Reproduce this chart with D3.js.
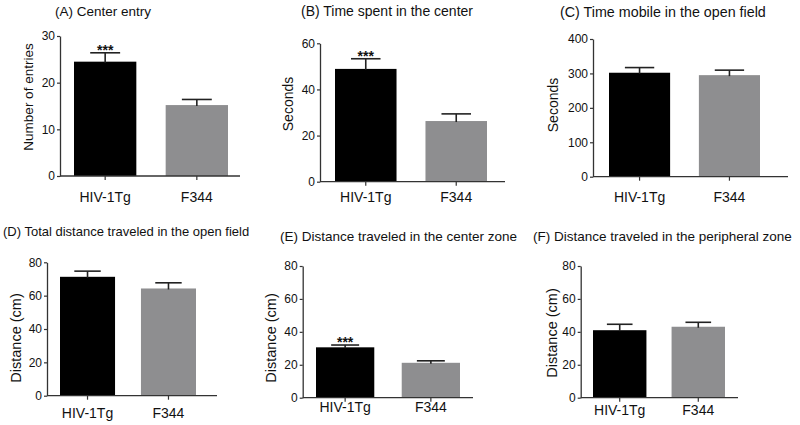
<!DOCTYPE html>
<html>
<head>
<meta charset="utf-8">
<script src="https://cdn.jsdelivr.net/npm/d3@7"></script>
<style>
  html, body { margin: 0; padding: 0; background: #fff; }
  svg { display: block; font-family: "Liberation Sans", Arial, Helvetica, sans-serif; }
</style>
</head>
<body>
<svg id="chart" width="800" height="425"></svg>
<script>
// ---------- DATA ----------
const groups = ["HIV-1Tg", "F344"];
const panelTitles = [
  "(A) Center entry",
  "(B) Time spent in the center",
  "(C) Time mobile in the open field",
  "(D) Total distance traveled in the open field",
  "(E) Distance traveled in the center zone",
  "(F) Distance traveled in the peripheral zone"
];
const yLabels = ["Number of entries", "Seconds", "Seconds", "Distance (cm)", "Distance (cm)", "Distance (cm)"];
const yMax = [30, 60, 400, 80, 80, 80];
const yTicks = [
  [0, 10, 20, 30],
  [0, 20, 40, 60],
  [0, 100, 200, 300, 400],
  [0, 20, 40, 60, 80],
  [0, 20, 40, 60, 80],
  [0, 20, 40, 60, 80]
];
const hivMeans = [24.5, 48.9, 302, 71.3, 30.6, 41.0];
const hivSem   = [1.9, 4.4, 15, 3.4, 1.4, 3.6];
const f344Means = [15.2, 26.3, 295, 64.3, 21.2, 43.1];
const f344Sem   = [1.2, 3.1, 14.5, 3.4, 1.2, 2.7];
const significance = ["***", "***", "", "", "***", ""];

// ---------- LAYOUT (pixels) ----------
const layout = [
  {ax: 60,    ax1: 240, y0: 176,   y1: 36,    b0: 74,  b1: 228, tx: 55,  ty: 16,  ts: 13.5, lx: 28,  ly: 97,  cy: 202, ls: 13.5},
  {ax: 320,   ax1: 505, y0: 181.7, y1: 43.3,  b0: 335, b1: 487, tx: 301, ty: 16,  ts: 14,   lx: 288, ly: 104, cy: 202, ls: 14},
  {ax: 593,   ax1: 788, y0: 176.7, y1: 39,    b0: 609, b1: 760, tx: 560, ty: 17,  ts: 14.3, lx: 553, ly: 105, cy: 202, ls: 14},
  {ax: 47,    ax1: 217, y0: 395.7, y1: 262.3, b0: 60,  b1: 196, tx: 3,   ty: 236, ts: 13,   lx: 16,  ly: 338, cy: 418, ls: 14.5},
  {ax: 302.7, ax1: 473, y0: 397.7, y1: 266,   b0: 316, b1: 460, tx: 280, ty: 241, ts: 13.5, lx: 271, ly: 338, cy: 412, ls: 14.5},
  {ax: 580.7, ax1: 738, y0: 397.7, y1: 266,   b0: 593, b1: 725, tx: 533, ty: 241, ts: 13.5, lx: 552, ly: 333, cy: 415, ls: 14.5}
];
const colors = ["#000000", "#8e8e90"];
const axisColor = "#333";

const svg = d3.select("#chart");

panelTitles.forEach((title, i) => {
  const L = layout[i];
  const g = svg.append("g");
  const y = d3.scaleLinear().domain([0, yMax[i]]).range([L.y0, L.y1]);
  const x = d3.scaleBand().domain(groups).range([L.b0, L.b1]).paddingInner(0.32).paddingOuter(0);
  const means = [hivMeans[i], f344Means[i]];
  const sems = [hivSem[i], f344Sem[i]];

  // title
  g.append("text").attr("x", L.tx).attr("y", L.ty)
    .attr("font-size", L.ts).attr("fill", "#111").text(title);

  // bars
  groups.forEach((grp, k) => {
    g.append("rect")
      .attr("x", x(grp)).attr("width", x.bandwidth())
      .attr("y", y(means[k])).attr("height", y(0) - y(means[k]))
      .attr("fill", colors[k]);
    const cx = x(grp) + x.bandwidth() / 2;
    const capW = x.bandwidth() * 0.48;
    g.append("line").attr("x1", cx).attr("x2", cx)
      .attr("y1", y(means[k]) + 1).attr("y2", y(means[k] + sems[k]))
      .attr("stroke", "#222").attr("stroke-width", 1.6);
    g.append("line").attr("x1", cx - capW / 2).attr("x2", cx + capW / 2)
      .attr("y1", y(means[k] + sems[k])).attr("y2", y(means[k] + sems[k]))
      .attr("stroke", "#222").attr("stroke-width", 1.6);
  });

  // significance
  if (significance[i]) {
    const cx = x(groups[0]) + x.bandwidth() / 2;
    g.append("text").attr("x", cx).attr("y", y(hivMeans[i] + hivSem[i]) + 2)
      .attr("text-anchor", "middle").attr("font-size", 14).attr("font-weight", "bold")
      .attr("fill", "#111").text(significance[i]);
  }

  // y axis
  const yAxis = g.append("g").attr("transform", `translate(${L.ax},0)`)
    .call(d3.axisLeft(y).tickValues(yTicks[i]).tickSize(3).tickPadding(2).tickSizeOuter(0));
  yAxis.select(".domain").attr("stroke", axisColor).attr("stroke-width", 1.3);
  yAxis.selectAll(".tick line").attr("stroke", axisColor).attr("stroke-width", 1.2);
  yAxis.selectAll(".tick text").attr("font-size", 12).attr("fill", "#111")
    .attr("font-family", "Liberation Sans, Arial, sans-serif");

  // x axis line
  g.append("line").attr("x1", L.ax).attr("x2", L.ax1).attr("y1", L.y0).attr("y2", L.y0)
    .attr("stroke", axisColor).attr("stroke-width", 1.3);
  groups.forEach(grp => {
    const cx = x(grp) + x.bandwidth() / 2;
    g.append("line").attr("x1", cx).attr("x2", cx).attr("y1", L.y0).attr("y2", L.y0 + 4)
      .attr("stroke", axisColor).attr("stroke-width", 1.2);
    g.append("text").attr("x", cx).attr("y", L.cy).attr("text-anchor", "middle")
      .attr("font-size", 14).attr("fill", "#111").text(grp);
  });

  // y label
  g.append("text").attr("transform", `translate(${L.lx},${L.ly}) rotate(-90)`)
    .attr("text-anchor", "middle").attr("dy", "0.35em")
    .attr("font-size", L.ls).attr("fill", "#111").text(yLabels[i]);
});
</script>
</body>
</html>
